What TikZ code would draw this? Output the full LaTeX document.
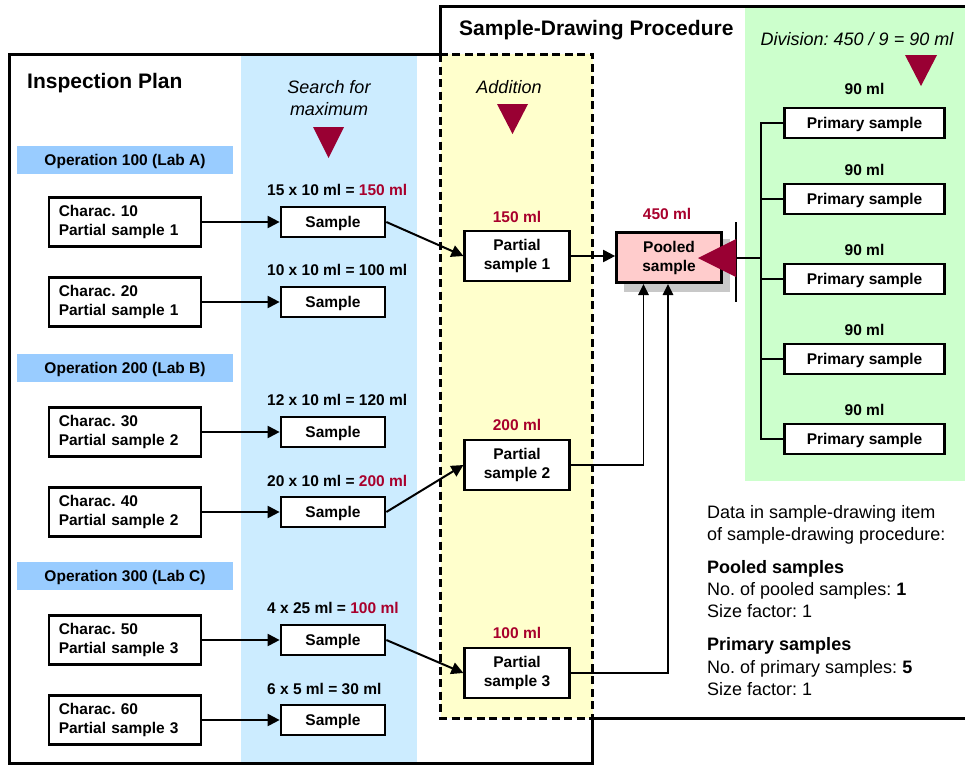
\documentclass[tikz,border=0pt]{standalone}
\usepackage{fontspec}
\setmainfont{Liberation Sans}
\usetikzlibrary{arrows.meta}

\definecolor{searchblue}{HTML}{CCECFF}
\definecolor{additionyellow}{HTML}{FFFFCC}
\definecolor{divisiongreen}{HTML}{CCFFCC}
\definecolor{opblue}{HTML}{99CCFF}
\definecolor{poolpink}{HTML}{FFCCCC}
\definecolor{shadegray}{HTML}{C8C8C8}
\definecolor{markred}{HTML}{990033}
\definecolor{valred}{HTML}{A8002C}

\newcommand{\fsz}[2]{\fontsize{#1}{#2}\selectfont}
\frenchspacing

\tikzset{
  frame/.style={line width=3pt},
  boldtext/.style={font=\bfseries\fsz{15.5}{19}},
  basebox/.style={draw, line width=2.2pt, fill=white, inner sep=0pt, boldtext},
  characbox/.style={basebox, minimum width=152pt, minimum height=49pt,
    text width=133pt, inner xsep=9.5pt, align=left},
  samplebox/.style={basebox, minimum width=104.5pt, minimum height=30.5pt,
    text height=11pt, text depth=0pt},
  partialbox/.style={basebox, minimum width=105pt, minimum height=49.5pt, align=center},
  poolbox/.style={basebox, fill=poolpink, line width=3.2pt, minimum width=104.5pt,
    minimum height=50pt, align=center},
  primbox/.style={basebox, minimum width=160pt, minimum height=30pt,
    text height=11pt, text depth=0pt},
  opbar/.style={fill=opblue, minimum width=216pt, minimum height=28pt, inner sep=0pt,
    boldtext, text height=11pt, text depth=0pt},
  amount/.style={boldtext, inner sep=0pt, text height=11pt, text depth=0pt},
  redamount/.style={amount, text=valred},
  heading/.style={font=\bfseries\fsz{21}{25}, inner sep=0pt, anchor=west,
    text height=15pt, text depth=0pt},
  note/.style={font=\itshape\fsz{18}{21.5}, inner sep=0pt, align=center},
  info/.style={font=\fsz{18}{23}, inner sep=0pt, anchor=base west},
  infohead/.style={info, font=\bfseries\fsz{18}{23}},
  flow/.style={-{Triangle[length=12pt,width=12pt]}, line width=2pt},
  feed/.style={-{Triangle[length=11pt,width=10.5pt]}, line width=1.6pt},
  tie/.style={line width=2pt},
}

\begin{document}
\begin{tikzpicture}[x=1pt,y=-1pt]
\useasboundingbox (0,0) rectangle (965,766);

% column backgrounds
\fill[searchblue] (241,55) rectangle (417,763);
\fill[divisiongreen] (745,7.5) rectangle (966,481);
\fill[additionyellow] (440.5,54) rectangle (592.5,718);

% frames: inspection plan, sample-drawing procedure and the shared addition strip
\draw[frame] (440.5,54) -- (9,54) -- (9,763.5) -- (592.5,763.5) -- (592.5,718);
\draw[frame] (440.5,54) -- (440.5,6) -- (968,6);
\draw[frame] (592.5,718) -- (968,718);
\draw[frame, dash pattern=on 8pt off 4.5pt] (440.5,54) rectangle (592.5,718);

% headings and notes
\node[heading] (iptitle) at (27,81) {Inspection Plan};
\node[heading] (sdptitle) at (459,28) {Sample-Drawing Procedure};
\node[note] (searchnote) at (329,98) {Search for\\maximum};
\node[note] (addnote) at (509,87) {Addition};
\node[note] (divnote) at (857,39) {Division: 450 / 9 = 90 ml};

\fill[markred] (313,127) -- (344,127) -- (328.5,158) -- cycle;
\fill[markred] (497,104) -- (528,104) -- (512.5,134) -- cycle;
\fill[markred] (905,55) -- (937,55) -- (921,86) -- cycle;

% operations
\node[opbar] (op1) at (125,160) {Operation 100 (Lab A)};
\node[opbar] (op2) at (125,368) {Operation 200 (Lab B)};
\node[opbar] (op3) at (125,576) {Operation 300 (Lab C)};

% characteristics
\node[characbox] (c10) at (125.25,222) {Charac. 10\\Partial sample 1};
\node[characbox] (c20) at (125.25,302) {Charac. 20\\Partial sample 1};
\node[characbox] (c30) at (125.25,432) {Charac. 30\\Partial sample 2};
\node[characbox] (c40) at (125.25,512) {Charac. 40\\Partial sample 2};
\node[characbox] (c50) at (125.25,640) {Charac. 50\\Partial sample 3};
\node[characbox] (c60) at (125.25,720) {Charac. 60\\Partial sample 3};

% samples with their quantities
\node[samplebox] (s10) at (333,222) {Sample};
\node[samplebox] (s20) at (333,302) {Sample};
\node[samplebox] (s30) at (333,432) {Sample};
\node[samplebox] (s40) at (333,512) {Sample};
\node[samplebox] (s50) at (333,640) {Sample};
\node[samplebox] (s60) at (333,720) {Sample};

\node[amount, anchor=west] (q10) at (267,190) {15 x 10 ml = \textcolor{valred}{150 ml}};
\node[amount, anchor=west] (q20) at (267,270) {10 x 10 ml = 100 ml};
\node[amount, anchor=west] (q30) at (267,400) {12 x 10 ml = 120 ml};
\node[amount, anchor=west] (q40) at (267,481) {20 x 10 ml = \textcolor{valred}{200 ml}};
\node[amount, anchor=west] (q50) at (267,608) {4 x 25 ml = \textcolor{valred}{100 ml}};
\node[amount, anchor=west] (q60) at (267,689) {6 x 5 ml = 30 ml};

% partial samples
\node[partialbox] (ps1) at (517,256) {Partial\\sample 1};
\node[partialbox] (ps2) at (517,465) {Partial\\sample 2};
\node[partialbox] (ps3) at (517,673) {Partial\\sample 3};
\node[redamount] (pa1) at (517,217) {150 ml};
\node[redamount] (pa2) at (517,425) {200 ml};
\node[redamount] (pa3) at (517,633) {100 ml};

% pooled sample with its shadow
\fill[shadegray] (623.5,239) rectangle (729.5,291.5);
\node[poolbox] (pool) at (669,257.5) {Pooled\\sample};
\node[redamount] (poolamt) at (667,214) {450 ml};

% primary samples
\node[primbox] (pr1) at (864.5,123) {Primary sample};
\node[primbox] (pr2) at (864.5,199) {Primary sample};
\node[primbox] (pr3) at (864.5,279) {Primary sample};
\node[primbox] (pr4) at (864.5,359) {Primary sample};
\node[primbox] (pr5) at (864.5,439) {Primary sample};
\node[amount] (m1) at (864.5,89) {90 ml};
\node[amount] (m2) at (864.5,170) {90 ml};
\node[amount] (m3) at (864.5,250) {90 ml};
\node[amount] (m4) at (864.5,330) {90 ml};
\node[amount] (m5) at (864.5,410) {90 ml};

% connectors: characteristic to sample
\draw[flow] (c10) -- (s10);
\draw[flow] (c20) -- (s20);
\draw[flow] (c30) -- (s30);
\draw[flow] (c40) -- (s40);
\draw[flow] (c50) -- (s50);
\draw[flow] (c60) -- (s60);

% maximum samples into the partial samples
\draw[flow] (s10.east) -- (ps1.west);
\draw[flow] (s40.east) -- (ps2.west);
\draw[flow] (s50.east) -- (ps3.west);

% partial samples into the pooled sample
\draw[flow] (ps1.east) -- (ps1.east -| pool.west);
\draw[feed] (ps2.east) -| ([xshift=-25.5pt]pool.south);
\draw[feed] (ps3.east) -| ([xshift=-1pt]pool.south);

% division of the pooled sample into primary samples
\coordinate (hub) at (761,258);
\coordinate (bartop) at (736,222);
\coordinate (barbot) at (736,302);
\draw[line width=1.4pt] (bartop) -- (barbot);
\draw[line width=2.6pt] (hub) -- (hub -| bartop);
\draw[tie] (pr1.west) -| (hub) |- (pr5.west);
\draw[tie] (pr2.west) -- (pr2.west -| hub);
\draw[tie] (pr3.west) -- (pr3.west -| hub);
\draw[tie] (pr4.west) -- (pr4.west -| hub);
\fill[markred] (736,239) -- (698,258) -- (736,277) -- cycle;

% sample-drawing item data
\node[info] (d1) at (707,518) {Data in sample-drawing item};
\node[info] (d2) at (707,540) {of sample-drawing procedure:};
\node[infohead] (d3) at (707,573) {Pooled samples};
\node[info] (d4) at (707,595) {No. of pooled samples: \textbf{1}};
\node[info] (d5) at (707,617) {Size factor: 1};
\node[infohead] (d6) at (707,650) {Primary samples};
\node[info] (d7) at (707,673) {No. of primary samples: \textbf{5}};
\node[info] (d8) at (707,695) {Size factor: 1};
\end{tikzpicture}
\end{document}
